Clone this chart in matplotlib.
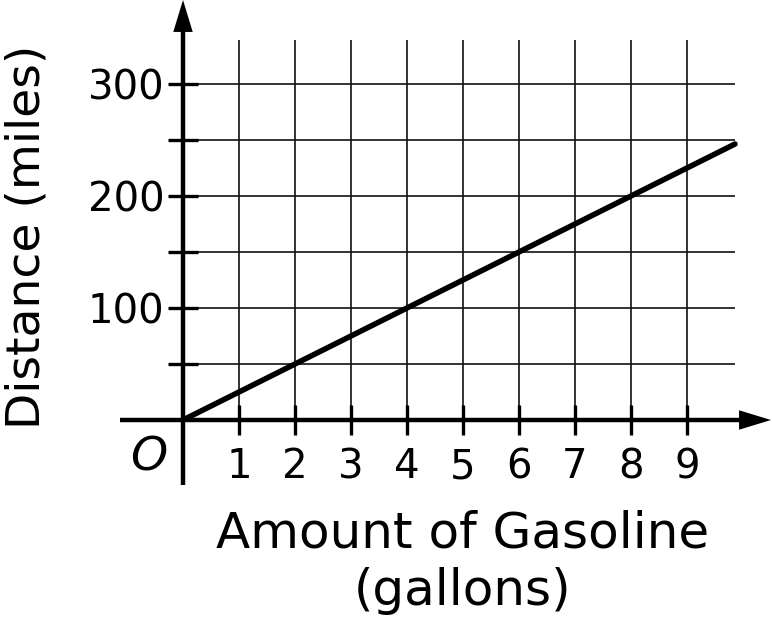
import matplotlib
matplotlib.use("Agg")
import matplotlib.pyplot as plt
import numpy as np

# Data
gallons = [0, 9.857]
miles_per_gallon = 25
distance = [g * miles_per_gallon for g in gallons]
x_ticks = [1, 2, 3, 4, 5, 6, 7, 8, 9]
x_tick_labels = ["1", "2", "3", "4", "5", "6", "7", "8", "9"]
y_ticks = [50, 100, 150, 200, 250, 300]
y_tick_labels = ["", "100", "", "200", "", "300"]

W, H = 772, 625
fig = plt.figure(figsize=(W / 100, H / 100), dpi=100)
plt.rcParams['font.family'] = ['DejaVu Sans']

# axes covering the grid area: px x 183..735, y 420..40
x0, x1 = 183, 735
y0, y1 = 420, 40
ax = fig.add_axes([x0 / W, 1 - y0 / H, (x1 - x0) / W, (y0 - y1) / H])
xmax = (x1 - x0) / 56.0
ymax = (y0 - y1) / 1.12
ax.set_xlim(0, xmax)
ax.set_ylim(0, ymax)
for s in ax.spines.values():
    s.set_visible(False)

ax.set_xticks(x_ticks)
ax.set_xticklabels(x_tick_labels)
ax.set_yticks(y_ticks)
ax.set_yticklabels(y_tick_labels)
ax.tick_params(axis='both', direction='inout', length=21, width=2.4, color='black',
               labelsize=29, pad=3)
ax.tick_params(axis='x', pad=9)
ax.grid(True, color='#111111', linewidth=1.2)
ax.set_axisbelow(True)

# axes with arrows
px_x = lambda p: (p - x0) / 56.0
px_y = lambda p: (y0 - p) / 1.12
ax.plot([px_x(120), px_x(745)], [0, 0], color='black', lw=3.2, clip_on=False, solid_capstyle='butt')
ax.plot([0, 0], [px_y(485), px_y(25)], color='black', lw=3.2, clip_on=False, solid_capstyle='butt')
arrow = dict(arrowstyle='-|>,head_length=2.3,head_width=0.7', color='black', lw=0,
             shrinkA=0, shrinkB=0)
ax.annotate('', xy=(px_x(771), 0), xytext=(px_x(735), 0),
            arrowprops=arrow, annotation_clip=False)
ax.annotate('', xy=(0, px_y(0)), xytext=(0, px_y(36)),
            arrowprops=arrow, annotation_clip=False)

# the line
ax.plot(gallons, distance, color='black', lw=4, clip_on=False, solid_capstyle='round')

ax.text(px_x(149), px_y(458), 'O', fontsize=34, style='italic', ha='center', va='center')
fig.text(463 / W, 1 - 533 / H, 'Amount of Gasoline', fontsize=36, ha='center', va='center')
fig.text(463 / W, 1 - 591 / H, '(gallons)', fontsize=36, ha='center', va='center')
fig.text(27 / W, 1 - 237 / H, 'Distance (miles)', fontsize=34, ha='center', va='center', rotation=90)

fig.savefig('out.png', dpi=100)
